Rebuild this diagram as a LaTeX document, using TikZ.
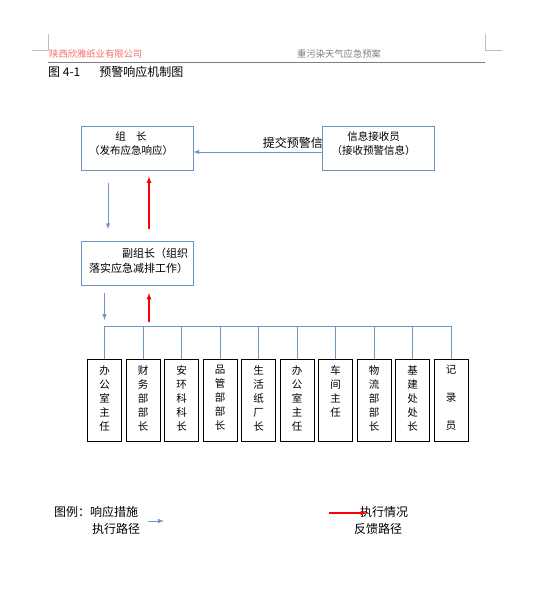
\documentclass[tikz,border=0pt]{standalone}
\usepackage{fontspec}
\setmainfont{Liberation Serif}
\newfontfamily\cjk{Noto Sans CJK SC}
\usetikzlibrary{arrows,positioning,calc}
\definecolor{frameblue}{RGB}{112,146,190}
\definecolor{lineblue}{RGB}{110,150,200}
\definecolor{headred}{RGB}{240,110,110}
\definecolor{headgray}{RGB}{125,125,125}
\definecolor{fbred}{RGB}{255,0,0}
\tikzstyle{cropmark}=[draw={rgb,255:red,190;green,190;blue,190},line width=0.8pt]
\tikzstyle{leader}=[draw=frameblue,fill=white,line width=0.8pt,minimum width=112pt,minimum height=44pt,inner sep=0pt]
\tikzstyle{dept}=[draw=black,line width=0.8pt,fill=white,minimum width=34pt,minimum height=82pt,inner sep=0pt,anchor=north]
\tikzstyle{txt}=[font=\cjk\fontsize{10.5}{14}\selectfont,inner sep=0pt]
\tikzstyle{bigtxt}=[font=\cjk\fontsize{12}{17}\selectfont,inner sep=0pt]
\tikzstyle{exec}=[draw=lineblue,line width=1pt,-latex]
\tikzstyle{feedback}=[draw=fbred,line width=1.2pt,-latex]

\begin{document}
\begin{tikzpicture}[x=1pt,y=-1pt]
\useasboundingbox (0,0) rectangle (537,590);
% page header
\draw[cropmark] (48,34) -- (48,50) -- (32,50);
\draw[cropmark] (485,34) -- (485,50) -- (502,50);
\node[anchor=west,inner sep=0pt,font=\cjk\fontsize{9.3}{11}\selectfont,text=headred] (company) at (49,54) {陕西欣雅纸业有限公司};
\node[anchor=west,inner sep=0pt,font=\cjk\fontsize{9.3}{11}\selectfont,text=headgray] (plan) at (297,54) {重污染天气应急预案};
\draw[headgray,line width=0.8pt] (48,62) -- (485,62);
\node[bigtxt,anchor=west] (title) at (48,72) {图 4-1\hspace{19pt}预警响应机制图};

% leaders
\node[bigtxt,anchor=east] (submit) at (323,143) {提交预警信};
\node[leader] (Z) at (137,148) {};
\node[leader] (I) at (378.5,148) {};
\node[leader] (V) at (137,263.5) {};
\node[txt,align=center] (Zt) at ([xshift=-6pt,yshift=4pt]Z.center) {组\hspace{1em}长\\（发布应急响应）};
\node[txt,align=center] (It) at ([xshift=-5pt,yshift=4pt]I.center) {信息接收员\\（接收预警信息）};
\node[txt,align=right,anchor=east,font=\cjk\fontsize{11}{15}\selectfont] (Vt) at ([xshift=-5pt,yshift=3pt]V.east) {副组长（组织\\落实应急减排工作）};
\draw[exec] ([yshift=-4pt]I.west) -- ([yshift=-4pt]Z.east);
\draw[exec,shorten <=13pt,shorten >=12pt] ([xshift=-29pt]Z.south) -- ([xshift=-29pt]V.north);
\draw[feedback,shorten <=12pt,shorten >=6pt] ([xshift=12pt]V.north) -- ([xshift=12pt]Z.south);

% departments
\coordinate (bus) at (0,326);
\foreach \i/\t in {1/{办\\公\\室\\主\\任}, 2/{财\\务\\部\\部\\长}, 3/{安\\环\\科\\科\\长},
  4/{品\\管\\部\\部\\长}, 5/{生\\活\\纸\\厂\\长}, 6/{办\\公\\室\\主\\任},
  7/{车\\间\\主\\任}, 8/{物\\流\\部\\部\\长}, 9/{基\\建\\处\\处\\长},
  10/{记\\[14pt]录\\[14pt]员}}{
  \node[dept] (D\i) at (104.5+38.5*\i-38.5,359) {};
  \node[txt,align=center,anchor=north] (T\i) at ([yshift=-6pt]D\i.north) {\t};
  \draw[lineblue,line width=0.9pt] (D\i.north |- bus) -- (D\i.north);
}
\draw[lineblue,line width=0.9pt] (D1.north |- bus) -- (D10.north |- bus);
\draw[exec,shorten <=7pt,shorten >=6pt] (V.south -| D1.north) -- (D1.north |- bus);
\draw[feedback,shorten <=4pt,shorten >=7pt] ([xshift=12pt]V.south |- bus) -- ([xshift=12pt]V.south);

% legend
\node[bigtxt,anchor=west] (key) at (54,512) {图例：响应措施};
\node[bigtxt,anchor=west] (keyexec) at (92,529) {执行路径};
\coordinate (ea) at (148,521);
\coordinate (eb) at (164,521);
\draw[exec] (ea) -- (eb);
\coordinate (fa) at (329,513);
\coordinate (fb) at (367,513);
\node[bigtxt,anchor=west] (keyfb) at (360,512) {执行情况};
\node[bigtxt,anchor=west] (keyfbb) at (354,529) {反馈路径};
\draw[feedback] (fa) -- (fb);
\end{tikzpicture}
\end{document}
